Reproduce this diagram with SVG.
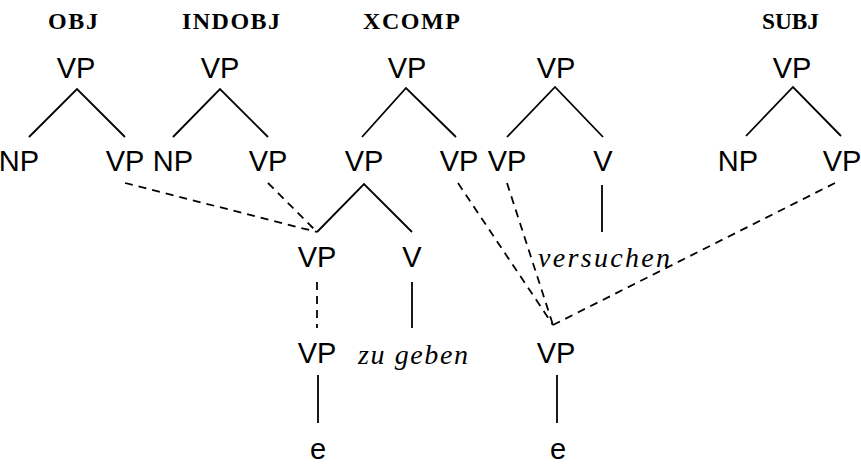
<svg xmlns="http://www.w3.org/2000/svg" width="861" height="464" viewBox="0 0 861 464">
<style>
.c{font-family:"Liberation Sans",Arial,sans-serif;font-size:29px;fill:#000;text-anchor:middle}
.f{font-family:"Liberation Serif","Times New Roman",serif;font-size:24px;font-weight:bold;fill:#000}
.w{font-family:"Liberation Serif","Times New Roman",serif;font-size:28px;font-style:italic;fill:#000}
.s{stroke:#000;stroke-width:1.8;fill:none}
.d{stroke:#000;stroke-width:1.8;fill:none;stroke-dasharray:8 6}
</style>
<rect width="861" height="464" fill="#fff"/>
<g id="labels">
<text class="f" x="48" y="29" textLength="50" lengthAdjust="spacing">OBJ</text>
<text class="f" x="182" y="29" textLength="98" lengthAdjust="spacing">INDOBJ</text>
<text class="f" x="363" y="29" textLength="97" lengthAdjust="spacing">XCOMP</text>
<text class="f" x="762" y="29" textLength="57" lengthAdjust="spacingAndGlyphs">SUBJ</text>
</g>
<g id="obj-vp"><text class="c" x="76" y="78">VP</text></g>
<g id="obj-np"><text class="c" x="19" y="171">NP</text></g>
<g id="obj-vp2"><text class="c" x="125" y="171">VP</text></g>
<g id="indobj-vp"><text class="c" x="220" y="78">VP</text></g>
<g id="indobj-np"><text class="c" x="173" y="171">NP</text></g>
<g id="indobj-vp2"><text class="c" x="268" y="171">VP</text></g>
<g id="xcomp-vp"><text class="c" x="407" y="78">VP</text></g>
<g id="xcomp-vp-l"><text class="c" x="364" y="171">VP</text></g>
<g id="xcomp-vp-r"><text class="c" x="459" y="171">VP</text></g>
<g id="inner-vp"><text class="c" x="317" y="267">VP</text></g>
<g id="inner-v"><text class="c" x="412" y="267">V</text></g>
<g id="low-vp"><text class="c" x="317" y="363">VP</text></g>
<g id="zugeben"><text class="w" x="358" y="364" textLength="110" lengthAdjust="spacing">zu geben</text></g>
<g id="low-e"><text class="c" x="318" y="459">e</text></g>
<g id="vers-vp"><text class="c" x="556" y="78">VP</text></g>
<g id="vers-vp-l"><text class="c" x="507" y="171">VP</text></g>
<g id="vers-v"><text class="c" x="603" y="171">V</text></g>
<g id="versuchen"><text class="w" x="538" y="267" textLength="132" lengthAdjust="spacing">versuchen</text></g>
<g id="right-vp"><text class="c" x="556" y="363">VP</text></g>
<g id="right-e"><text class="c" x="558" y="459">e</text></g>
<g id="subj-vp"><text class="c" x="792" y="78">VP</text></g>
<g id="subj-np"><text class="c" x="738" y="171">NP</text></g>
<g id="subj-vp2"><text class="c" x="842" y="171">VP</text></g>
<g id="connectors">
<path class="s" d="M29,137 L77,89 L125,137"/>
<path class="s" d="M173,137 L220,89 L268,137"/>
<path class="s" d="M362,137 L406,88 L456,137"/>
<path class="s" d="M317,232 L364,184 L412,232"/>
<path class="s" d="M507,137 L555,87 L603,137"/>
<path class="s" d="M746,136 L793,87 L841,136"/>
<path class="s" d="M412,282 L412,328"/>
<path class="s" d="M602,185 L602,232"/>
<path class="s" d="M318,375 L318,423"/>
<path class="s" d="M557,375 L557,423"/>
<path class="d" d="M317,282 L317,328"/>
<path class="d" d="M125,183 L317,232"/>
<path class="d" d="M268,183 L317,232"/>
<path class="d" d="M458,183 L553,325"/>
<path class="d" d="M507,183 L553,325"/>
<path class="d" d="M835,183 L553,325"/>
</g>
</svg>
